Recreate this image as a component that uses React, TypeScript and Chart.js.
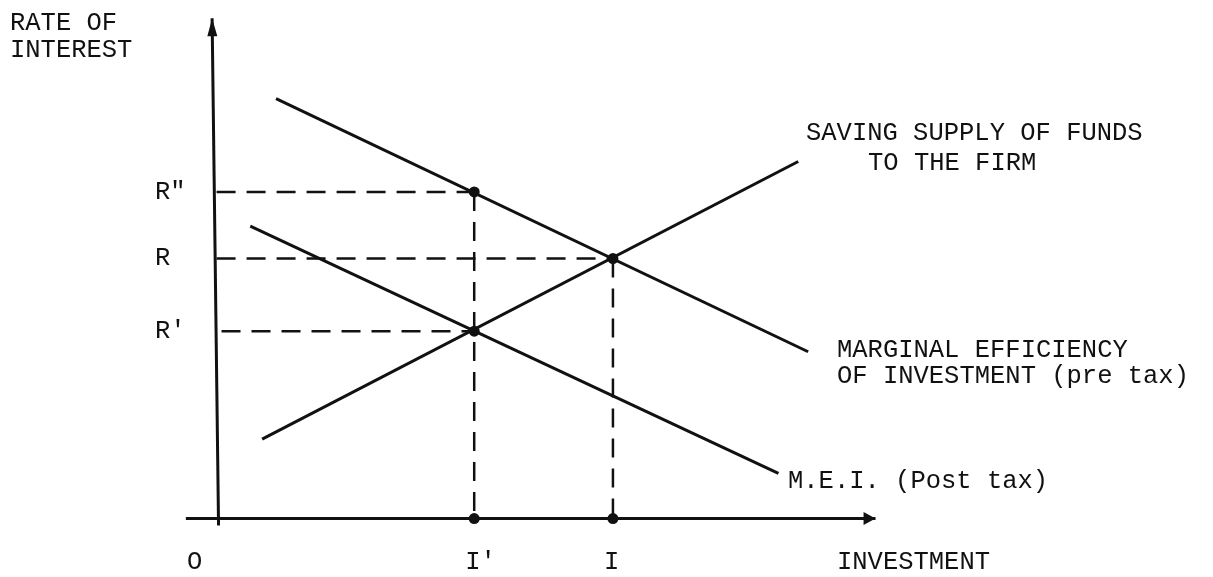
import React, { useEffect, useRef } from "react";
import { Chart, registerables } from "chart.js";

Chart.register(...registerables);

// ---- Data (abstract units: investment on x, rate of interest on y) ----
const investmentLevels = [5.2, 8.0]; // I', I
const investmentLabels = ["I'", "I"];
const rateLevels = [6.66, 5.3, 3.82]; // R", R, R'
const rateLabels = ['R"', "R", "R'"];

const supplyX = [0.92, 11.74];
const supplyY = [1.62, 7.28];
const meiPreX = [1.2, 11.94];
const meiPreY = [8.56, 3.4];
const meiPostX = [0.68, 11.34];
const meiPostY = [5.96, 0.92];

const xAxisX = [-0.62, 13.3];
const yAxisTop = [-0.09, 10.2];
const yAxisBottom = [0.04, -0.14];

// ---- Layout constants ----
const W = 1213;
const H = 577;
const ORIGIN_PX_X = 213;
const ORIGIN_PX_Y = 523;
const PX_PER_UNIT = 50;
const FONT = '25.5px "Liberation Mono", "DejaVu Sans Mono", monospace';
const INK = "#111";

const pts = (xs: number[], ys: number[]) => xs.map((x, i) => ({ x, y: ys[i] }));

const arrowPlugin = {
  id: "arrowsAndText",
  afterDatasetsDraw(chart: any) {
    const ctx = chart.ctx;
    const xs = chart.scales.x;
    const ys = chart.scales.y;
    ctx.save();
    // arrow heads
    chart.data.datasets.forEach((ds: any) => {
      if (!ds.arrow) return;
      const d = ds.data;
      const a = d[d.length - 2];
      const b = d[d.length - 1];
      const ax = xs.getPixelForValue(a.x), ay = ys.getPixelForValue(a.y);
      const bx = xs.getPixelForValue(b.x), by = ys.getPixelForValue(b.y);
      const ang = Math.atan2(by - ay, bx - ax);
      const len = ds.arrowLen, half = ds.arrowHalf;
      ctx.fillStyle = INK;
      ctx.beginPath();
      ctx.moveTo(bx, by);
      ctx.lineTo(bx - len * Math.cos(ang) + half * Math.sin(ang), by - len * Math.sin(ang) - half * Math.cos(ang));
      ctx.lineTo(bx - len * Math.cos(ang) - half * Math.sin(ang), by - len * Math.sin(ang) + half * Math.cos(ang));
      ctx.closePath();
      ctx.fill();
    });

    // text
    ctx.fillStyle = INK;
    ctx.font = FONT;
    ctx.textBaseline = "middle";
    ctx.textAlign = "left";
    const t = (s: string, x: number, y: number) => ctx.fillText(s, x, y);
    t("RATE OF", 10, 23);
    t("INTEREST", 10, 50);
    rateLevels.forEach((r, i) => t(rateLabels[i], 155, ys.getPixelForValue(r)));
    investmentLevels.forEach((v, i) => t(investmentLabels[i], xs.getPixelForValue(v) - 9, 562));
    t("O", 187, 562);
    t("INVESTMENT", 837, 562);
    t("SAVING SUPPLY OF FUNDS", 806, 133);
    t("TO THE FIRM", 868, 163);
    t("MARGINAL EFFICIENCY", 837, 350);
    t("OF INVESTMENT (pre tax)", 837, 376);
    t("M.E.I. (Post tax)", 788, 481);
    ctx.restore();
  },
};

export default function App() {
  const ref = useRef<HTMLCanvasElement | null>(null);

  useEffect(() => {
    if (!ref.current) return;
    const [iP, iE] = investmentLevels;
    const [rD, rE, rP] = rateLevels;

    const solid = (data: any[], extra: any = {}) => ({
      data,
      showLine: true,
      borderColor: INK,
      borderWidth: 3,
      pointRadius: 0,
      fill: false,
      ...extra,
    });
    const dashed = (data: any[]) =>
      solid(data, { borderWidth: 2.5, borderDash: [19, 11] });

    const chart = new Chart(ref.current, {
      type: "scatter",
      data: {
        datasets: [
          solid([{ x: xAxisX[0], y: 0 }, { x: xAxisX[1], y: 0 }], { arrow: true, arrowLen: 12, arrowHalf: 6.5, borderWidth: 3 }),
          solid([{ x: yAxisBottom[0], y: yAxisBottom[1] }, { x: yAxisTop[0], y: yAxisTop[1] }], { arrow: true, arrowLen: 18, arrowHalf: 5, borderWidth: 3 }),
          dashed([{ x: 0, y: rD }, { x: iP, y: rD }]),
          dashed([{ x: iP, y: rD }, { x: iP, y: 0 }]),
          dashed([{ x: 0, y: rE }, { x: iE, y: rE }]),
          dashed([{ x: iE, y: rE }, { x: iE, y: 0 }]),
          dashed([{ x: 0.1, y: rP }, { x: iP, y: rP }]),
          solid(pts(supplyX, supplyY)),
          solid(pts(meiPreX, meiPreY)),
          solid(pts(meiPostX, meiPostY)),
          {
            data: [
              { x: iP, y: rD },
              { x: iE, y: rE },
              { x: iP, y: rP },
              { x: iP, y: 0 },
              { x: iE, y: 0 },
            ],
            showLine: false,
            pointRadius: 5.5,
            pointBackgroundColor: INK,
            pointBorderColor: INK,
            pointBorderWidth: 0,
          },
        ] as any,
      },
      options: {
        responsive: false,
        animation: false,
        events: [],
        layout: { padding: 0 },
        plugins: { legend: { display: false }, tooltip: { enabled: false } },
        scales: {
          x: {
            type: "linear",
            display: false,
            min: -ORIGIN_PX_X / PX_PER_UNIT,
            max: (W - ORIGIN_PX_X) / PX_PER_UNIT,
          },
          y: {
            type: "linear",
            display: false,
            min: -(H - ORIGIN_PX_Y) / PX_PER_UNIT,
            max: ORIGIN_PX_Y / PX_PER_UNIT,
          },
        },
      },
      plugins: [arrowPlugin],
    });
    return () => chart.destroy();
  }, []);

  return (
    <div style={{ position: "fixed", left: 0, top: 0, width: W, height: H, background: "#fff" }}>
      <canvas ref={ref} width={W} height={H} style={{ width: W, height: H, display: "block" }} />
    </div>
  );
}
